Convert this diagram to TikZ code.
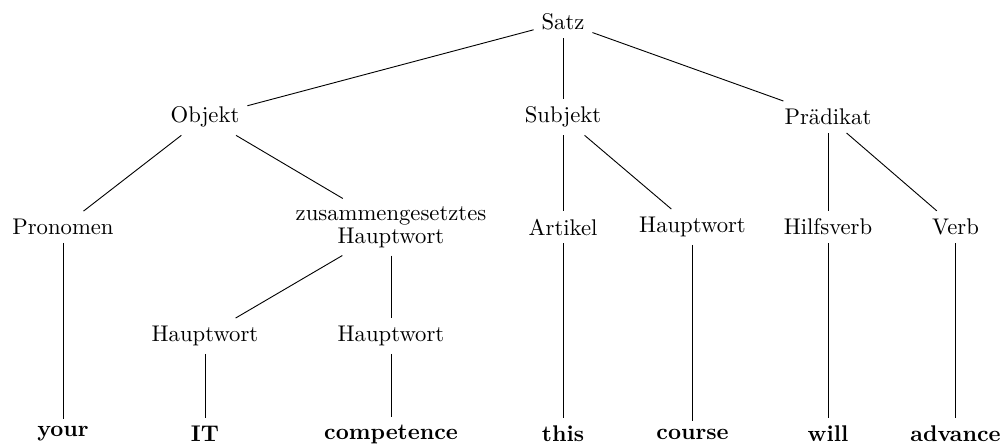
\documentclass[tikz,border=0pt]{standalone}
\begin{document}
\begin{tikzpicture}[x=0.441pt,y=-0.441pt,
  tn/.style={inner sep=0.3333em},
  leaf/.style={tn,font=\bfseries},
  edge/.style={draw,line width=0.4pt}]
\useasboundingbox (0,0) rectangle (1004,445);
% level 0
\node[tn] (satz) at (563,22) {Satz};
% level 1
\node[tn] (obj) at (205,117) {Objekt};
\node[tn] (subj) at (563,117) {Subjekt};
\node[tn] (pred) at (828,117) {Prädikat};
% level 2
\node[tn] (pron) at (63,227) {Pronomen};
\node[tn,align=center] (zus) at (391,227) {zusammengesetztes\\[-2pt]Hauptwort};
\node[tn] (art) at (563,227) {Artikel};
\node[tn] (hw) at (692.5,227) {Hauptwort};
\node[tn] (hilf) at (828,227) {Hilfsverb};
\node[tn] (verb) at (955.5,227) {Verb};
% level 3
\node[tn] (hwa) at (205,336) {Hauptwort};
\node[tn] (hwb) at (391,336) {Hauptwort};
% leaves
\node[leaf] (your) at (63,434) {your};
\node[leaf] (it) at (205,434) {IT};
\node[leaf] (comp) at (391,434) {competence};
\node[leaf] (this) at (563,434) {this};
\node[leaf] (course) at (692.5,434) {course};
\node[leaf] (will) at (828,434) {will};
\node[leaf] (adv) at (955.5,434) {advance};
% edges
\draw[edge] (satz) -- (obj);
\draw[edge] (satz) -- (subj);
\draw[edge] (satz) -- (pred);
\draw[edge] (obj) -- (pron);
\draw[edge] (obj) -- (zus);
\draw[edge] (subj) -- (art);
\draw[edge] (subj) -- (hw);
\draw[edge] (pred) -- (hilf);
\draw[edge] (pred) -- (verb);
\draw[edge] (zus) -- (hwa);
\draw[edge] (zus) -- (hwb);
\draw[edge] (pron) -- (your);
\draw[edge] (hwa) -- (it);
\draw[edge] (hwb) -- (comp);
\draw[edge] (art) -- (this);
\draw[edge] (hw) -- (course);
\draw[edge] (hilf) -- (will);
\draw[edge] (verb) -- (adv);
\end{tikzpicture}
\end{document}
